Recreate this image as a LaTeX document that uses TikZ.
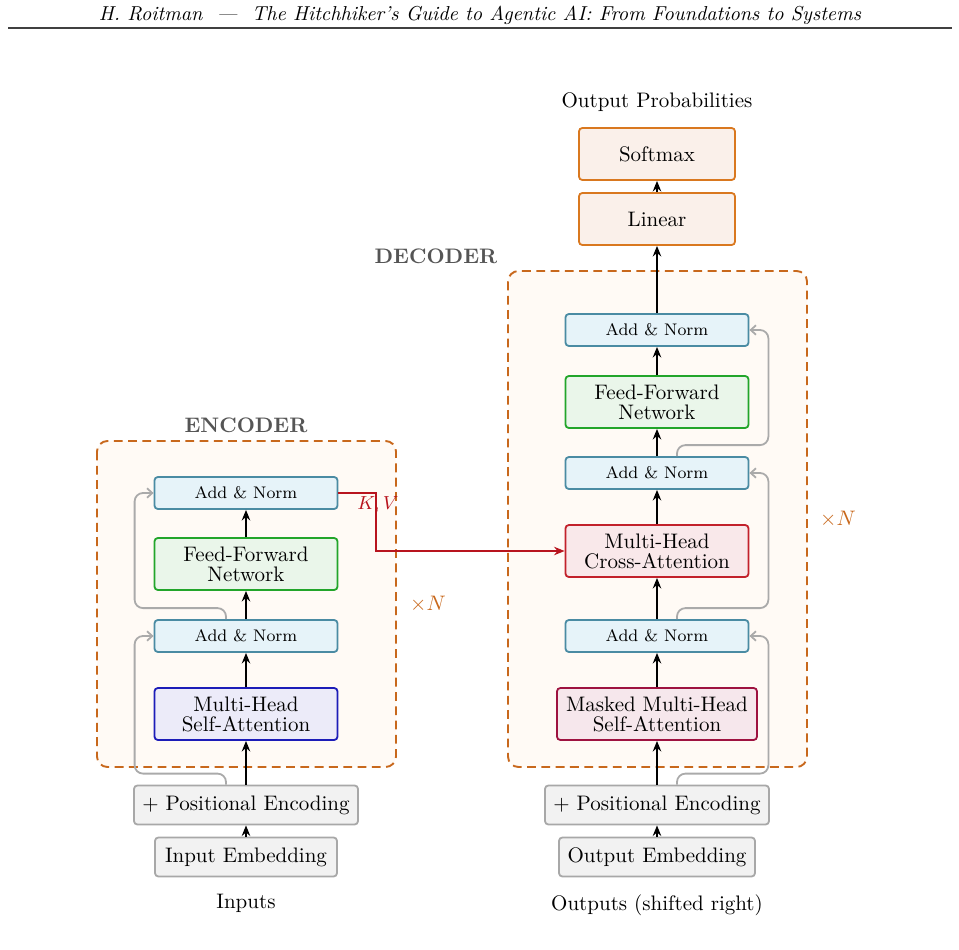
\documentclass[tikz,border=0pt]{standalone}
\usetikzlibrary{arrows.meta,calc}
\def\pxu{0.476pt}
\definecolor{anfill}{HTML}{E6F3F9}
\definecolor{andraw}{HTML}{4A8BA3}
\definecolor{fffill}{HTML}{EAF6EA}
\definecolor{ffdraw}{HTML}{22A52A}
\definecolor{safill}{HTML}{ECEBF9}
\definecolor{sadraw}{HTML}{1C1CB8}
\definecolor{cafill}{HTML}{F9E8EA}
\definecolor{cadraw}{HTML}{C2212B}
\definecolor{mafill}{HTML}{F6E7EC}
\definecolor{madraw}{HTML}{9E1240}
\definecolor{gyfill}{HTML}{F2F2F2}
\definecolor{gydraw}{HTML}{A8A8A8}
\definecolor{orfill}{HTML}{FAF0EA}
\definecolor{ordraw}{HTML}{D9781F}
\definecolor{boxfill}{HTML}{FFFAF5}
\definecolor{boxdraw}{HTML}{C8681C}
\definecolor{kvred}{HTML}{B8141E}
\definecolor{titlegray}{HTML}{555555}
\definecolor{resgray}{HTML}{AAAAAA}
\tikzset{
  blk/.style={draw, rounded corners=1.6pt, line width=0.85pt, align=center,
    inner sep=0pt, font={\fontsize{10}{9.5}\selectfont}},
  anbox/.style={blk, fill=anfill, draw=andraw, minimum width=183*\pxu, minimum height=32*\pxu, font=\footnotesize},
  ffbox/.style={blk, fill=fffill, draw=ffdraw, minimum width=183*\pxu, minimum height=52*\pxu},
  sabox/.style={blk, fill=safill, draw=sadraw, minimum width=183*\pxu, minimum height=52*\pxu},
  cabox/.style={blk, fill=cafill, draw=cadraw, minimum width=183*\pxu, minimum height=52*\pxu},
  mabox/.style={blk, fill=mafill, draw=madraw, minimum width=200*\pxu, minimum height=52*\pxu},
  gybox/.style={blk, fill=gyfill, draw=gydraw},
  orbox/.style={blk, fill=orfill, draw=ordraw, minimum width=156*\pxu, minimum height=52*\pxu},
  stack/.style={draw=boxdraw, fill=boxfill, line width=0.9pt, dash pattern=on 4.2pt off 2.6pt, rounded corners=5pt},
  flow/.style={line width=0.9pt, -{Stealth[length=5pt,width=4pt]}},
  res/.style={draw=resgray, line width=0.85pt, rounded corners=4pt, -{Straight Barb[length=2.5pt,width=4.5pt]}},
  kv/.style={draw=kvred, line width=0.9pt, -{Stealth[length=5pt,width=4pt]}},
  ttl/.style={font=\bfseries, text=titlegray},
  lbl/.style={font=\normalsize}
}
\begin{document}
\begin{tikzpicture}[x=0.476pt, y=-0.476pt]
\useasboundingbox (0,0) rectangle (959,950);
% header
\node[font={\fontsize{9.6}{11}\selectfont}] (hdr) at (480,15) {\itshape H. Roitman\ \ ---\ \ The Hitchhiker's Guide to Agentic AI: From Foundations to Systems};
\draw[line width=0.5pt, draw=black!75] (8,28) coordinate (hl) -- (952,28) coordinate (hr);

% stacks
\draw[stack] (97,441) rectangle (396,767);
\draw[stack] (508,271) rectangle (807,767);
\node[ttl] (enct) at (246,425) {ENCODER};
\node[ttl] (dect) at (436,256) {DECODER};
\node[text=boxdraw] (encn) at (428,604) {$\times N$};
\node[text=boxdraw] (decn) at (838,519) {$\times N$};

% encoder
\node[anbox] (ean2) at (246,493) {Add \& Norm};
\node[ffbox] (eff) at (246,564) {Feed-Forward\\Network};
\node[anbox] (ean1) at (246,636) {Add \& Norm};
\node[sabox] (esa) at (246,714) {Multi-Head\\Self-Attention};
\node[gybox, minimum width=224*\pxu, minimum height=39*\pxu] (epe) at (246,805) {+ Positional Encoding};
\node[gybox, minimum width=182*\pxu, minimum height=39*\pxu] (eemb) at (246,857) {Input Embedding};
\node[lbl] (ein) at (246,903) {Inputs};

% decoder
\node[orbox] (soft) at (657,154) {Softmax};
\node[orbox] (lin) at (657,219) {Linear};
\node[lbl] (oprob) at (657,102) {Output Probabilities};
\node[anbox] (dan3) at (657,330) {Add \& Norm};
\node[ffbox] (dff) at (657,402) {Feed-Forward\\Network};
\node[anbox] (dan2) at (657,473) {Add \& Norm};
\node[cabox] (dca) at (657,551) {Multi-Head\\Cross-Attention};
\node[anbox] (dan1) at (657,636) {Add \& Norm};
\node[mabox] (dma) at (657,714) {Masked Multi-Head\\Self-Attention};
\node[gybox, minimum width=224*\pxu, minimum height=39*\pxu] (dpe) at (657,805) {+ Positional Encoding};
\node[gybox, minimum width=196*\pxu, minimum height=39*\pxu] (demb) at (657,857) {Output Embedding};
\node[lbl] (dout) at (657,905) {Outputs (shifted right)};

% encoder flow
\draw[flow] (eemb) -- (epe);
\draw[flow] (epe) -- (esa);
\draw[flow] (esa) -- (ean1);
\draw[flow] (ean1) -- (eff);
\draw[flow] (eff) -- (ean2);
% decoder flow
\draw[flow] (demb) -- (dpe);
\draw[flow] (dpe) -- (dma);
\draw[flow] (dma) -- (dan1);
\draw[flow] (dan1) -- (dca);
\draw[flow] (dca) -- (dan2);
\draw[flow] (dan2) -- (dff);
\draw[flow] (dff) -- (dan3);
\draw[flow] (dan3) -- (lin);
\draw[flow] (lin) -- (soft);

% residuals encoder
\draw[res] ([xshift=-20*\pxu]epe.north) -- ++(0,-11) -| ($(ean1.west)+(-19,0)$) -- (ean1.west);
\draw[res] ([xshift=-20*\pxu]ean1.north) -- ++(0,-11) -| ($(ean2.west)+(-19,0)$) -- (ean2.west);
% residuals decoder
\draw[res] ([xshift=20*\pxu]dpe.north) -- ++(0,-11) -| ($(dan1.east)+(19,0)$) -- (dan1.east);
\draw[res] ([xshift=20*\pxu]dan1.north) -- ++(0,-11) -| ($(dan2.east)+(19,0)$) -- (dan2.east);
\draw[res] ([xshift=20*\pxu]dan2.north) -- ++(0,-11) -| ($(dan3.east)+(19,0)$) -- (dan3.east);

% K,V
\draw[kv] (ean2.east) -| ($(dca.west)+(-189,0)$) -- (dca.west);
\node[text=kvred, font=\small] (kvl) at (378,505) {$K,V$};
\end{tikzpicture}
\end{document}
